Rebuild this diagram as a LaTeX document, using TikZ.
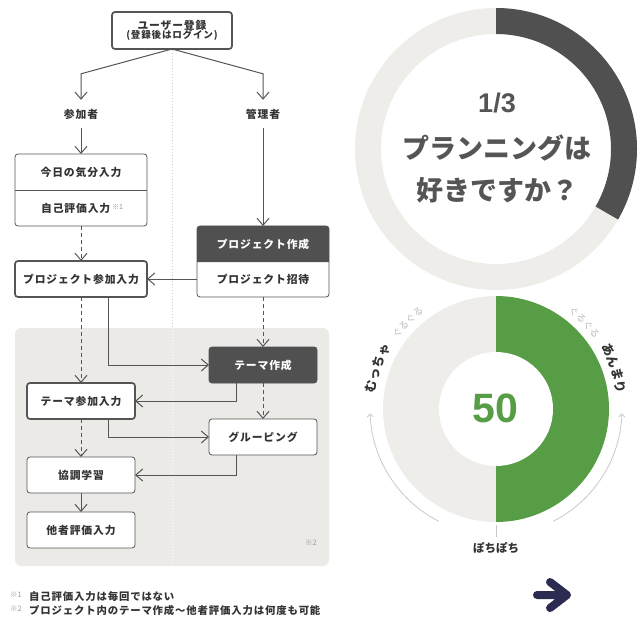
\documentclass[tikz,border=0pt]{standalone}
\usepackage{fontspec}
\newfontfamily\jp{Noto Sans CJK JP}
\newfontfamily\jpx{Noto Sans CJK JP}[LetterSpace=8]
\newfontfamily\arialf{Liberation Sans}
\usetikzlibrary{arrows.meta,decorations.text}
\definecolor{linec}{HTML}{555555}
\definecolor{txt}{HTML}{333333}
\definecolor{darkbox}{HTML}{505050}
\definecolor{panel}{HTML}{ECEAE6}
\definecolor{ringlight}{HTML}{EFEDEA}
\definecolor{ringdark}{HTML}{505050}
\definecolor{ringgreen}{HTML}{579D46}
\definecolor{ringtext}{HTML}{555555}
\definecolor{navy}{HTML}{2B2A50}
\definecolor{faint}{HTML}{BBBBBB}
\definecolor{arcc}{HTML}{C8C8C8}
\definecolor{dotc}{HTML}{CCCCCC}
\definecolor{notec}{HTML}{999999}
\tikzset{
  lbl/.style={font=\jpx\bfseries\fontsize{10.8}{12}\selectfont, text=txt},
  foot/.style={font=\jpx\bfseries\fontsize{10.4}{12}\selectfont, text=txt},
  boxthin/.style={draw=linec, line width=0.8pt, rounded corners=3pt, fill=white,
    minimum width=108pt, minimum height=36pt, inner sep=0pt, outer sep=0pt, lbl},
  boxthick/.style={boxthin, line width=1.7pt},
  arr/.style={draw=linec, line width=1pt, -{Straight Barb[length=7pt,width=12pt]}},
  darr/.style={arr, dash pattern=on 4pt off 3pt},
  ringlbl/.style={font=\jp\bfseries\fontsize{27}{27}\selectfont, text=ringtext},
  note/.style={font=\jp\fontsize{7.5}{8}\selectfont, text=notec},
}
\newcommand{\supnote}[1]{\raisebox{3pt}{\jp\fontsize{7}{7}\selectfont\mdseries\color{notec}#1}}
\begin{document}
\begin{tikzpicture}[x=1pt,y=1pt]
\useasboundingbox (0,0) rectangle (644,-617);

% ---------- panel and center dotted line ----------
\fill[panel, rounded corners=6pt] (15,-328) rectangle (329,-566);
\draw[dotc, line width=1pt, dash pattern=on 1pt off 2pt] (172,-50) -- (172,-328);
\draw[white, line width=1pt, dash pattern=on 1pt off 2pt] (172,-328) -- (172,-566);

% ---------- flow nodes ----------
\node[boxthick, minimum width=120pt, minimum height=37pt, align=center] (reg) at (172,-30.5)
  {ユーザー登録\\[-2.5pt]{\fontsize{9.6}{10}\selectfont (登録後はログイン)}};
\node[lbl, inner sep=0pt, minimum height=28pt] (sanka) at (81,-114) {参加者};
\node[lbl, inner sep=0pt, minimum height=28pt] (kanri) at (263,-114) {管理者};

\node[boxthin, minimum width=132pt, minimum height=72pt] (mood) at (81,-190) {};
\draw[linec, line width=0.8pt] (mood.west) -- (mood.east);
\node[lbl] (moodA) at (81,-172) {今日の気分入力};
\node[lbl] (moodB) at (82,-208) {自己評価入力\,\supnote{※1}};

\node[boxthick, minimum width=132pt] (pjoin) at (81,-279) {プロジェクト参加入力};

\node[boxthin, minimum width=132pt, minimum height=71pt] (pcreate) at (263,-261.5) {};
\fill[darkbox] (pcreate.west |- 0,-262) -- ([yshift=-3pt]pcreate.north west)
  arc[start angle=180,end angle=90,radius=3pt] -- ([xshift=-3pt]pcreate.north east)
  arc[start angle=90,end angle=0,radius=3pt] -- (pcreate.east |- 0,-262) -- cycle;
\node[lbl, text=white] (pcTitle) at (263,-244) {プロジェクト作成};
\node[lbl] (pcInvite) at (263,-279) {プロジェクト招待};

\node[boxthin, fill=darkbox, draw=darkbox, text=white] (theme) at (263,-365) {テーマ作成};
\node[boxthick] (tjoin) at (81,-401) {テーマ参加入力};
\node[boxthin] (group) at (263,-437) {グルーピング};
\node[boxthin] (collab) at (81,-475) {協調学習};
\node[boxthin] (other) at (81,-530) {他者評価入力};
\node[note] (n2) at (311,-543) {※2};

% ---------- connectors ----------
\draw[arr] (reg.south) -- ([yshift=26pt]sanka.north) -- (sanka.north);
\draw[arr] (reg.south) -- ([yshift=26pt]kanri.north) -- (kanri.north);
\draw[arr] (sanka.south) -- (mood.north);
\draw[arr] (kanri.south) -- (pcreate.north);
\draw[darr] (mood.south) -- (pjoin.north);
\draw[arr] (pcreate.west |- pcInvite) -- (pjoin.east);
\draw[darr] (pjoin.south) -- (tjoin.north);
\draw[arr] ([xshift=27pt]pjoin.south) |- (theme.west);
\draw[darr] (pcreate.south) -- (theme.north);
\draw[arr] ([xshift=-27pt]theme.south) |- (tjoin.east);
\draw[darr] (theme.south) -- (group.north);
\draw[arr] ([xshift=27pt]tjoin.south) |- (group.west);
\draw[darr] (tjoin.south) -- (collab.north);
\draw[arr] ([xshift=-27pt]group.south) |- (collab.east);
\draw[arr] (collab.south) -- (other.north);

% ---------- footnotes ----------
\node[note, anchor=west, inner sep=0pt] (f1m) at (10,-595) {※1};
\node[foot, anchor=west, inner sep=0pt] (f1) at (29,-597) {自己評価入力は毎回ではない};
\node[note, anchor=west, inner sep=0pt] (f2m) at (10,-609) {※2};
\node[foot, anchor=west, inner sep=0pt] (f2) at (29,-611) {プロジェクト内のテーマ作成〜他者評価入力は何度も可能};

% ---------- ring 1 ----------
\coordinate (c1) at (496,-149);
\fill[ringlight, even odd rule] (c1) circle[radius=141pt] (c1) circle[radius=115pt];
\fill[ringdark] ([shift={(90:141)}]c1) arc[start angle=90,end angle=-30,radius=141pt]
  -- ([shift={(-30:115)}]c1) arc[start angle=-30,end angle=90,radius=115pt] -- cycle;
\node[font=\arialf\bfseries\fontsize{27}{27}\selectfont, text=ringtext] (q1) at (497,-103) {1/3};
\node[ringlbl] (q2) at (497,-148) {プランニングは};
\node[ringlbl] (q3) at (497,-190) {好きですか？};

% ---------- ring 2 ----------
\coordinate (c2) at (496,-409);
\fill[ringlight] ([shift={(90:113)}]c2) arc[start angle=90,end angle=270,radius=113pt] -- cycle;
\fill[ringgreen] ([shift={(90:113)}]c2) arc[start angle=90,end angle=-90,radius=113pt] -- cycle;
\fill[white] (c2) circle[radius=57pt];
\node[font=\arialf\bfseries\fontsize{41}{41}\selectfont, text=ringgreen] (fifty) at (495,-408) {50};

\draw[arcc, line width=0.8pt, -{Straight Barb[length=3pt,width=6pt]}]
  ([shift={(243:126)}]c2) arc[start angle=243,end angle=182,radius=126pt];
\draw[arcc, line width=0.8pt, -{Straight Barb[length=3pt,width=6pt]}]
  ([shift={(297:126)}]c2) arc[start angle=297,end angle=358,radius=126pt];
\draw[arcc, line width=0.8pt] ([yshift=-116pt]c2) -- ([yshift=-128pt]c2);
\node[font=\jp\bfseries\fontsize{11.5}{12}\selectfont, text=txt] (pochi) at (496,-548) {ぽちぽち};

\path[decorate, decoration={text along path, text align=center, text color=txt,
  text={|\jp\bfseries\fontsize{12.5}{12}\selectfont|むっちゃ}}]
  ([shift={(186:122)}]c2) arc[start angle=186,end angle=136,radius=122pt];
\path[decorate, decoration={text along path, text align=center, text color=faint,
  text={|\jp\fontsize{9.5}{10}\selectfont|ぐるぐる}}]
  ([shift={(160:121)}]c2) arc[start angle=160,end angle=111,radius=121pt];
\path[decorate, decoration={text along path, text align=center, text color=faint,
  text={|\jp\fontsize{9.5}{10}\selectfont|ぐるぐる}}]
  ([shift={(69:121)}]c2) arc[start angle=69,end angle=20,radius=121pt];
\path[decorate, decoration={text along path, text align=center, text color=txt,
  text={|\jp\bfseries\fontsize{12.5}{12}\selectfont|あんまり}}]
  ([shift={(44:122)}]c2) arc[start angle=44,end angle=-6,radius=122pt];

% ---------- navy arrow ----------
\coordinate (na) at (537,-595);
\draw[navy, line width=8pt, line cap=round, line join=round]
  (na) -- ++(30,0) ++(-17,13) -- ++(17,-13) -- ++(-17,-13);
\end{tikzpicture}
\end{document}
